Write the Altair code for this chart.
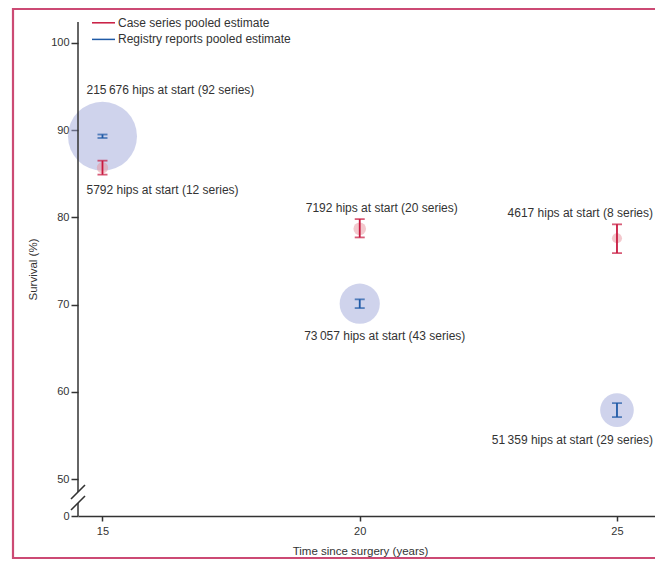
import altair as alt
import pandas as pd

# ---- data ----
years = [15, 20, 25]
case_est = [85.7, 78.7, 77.6]
case_lo = [84.9, 77.7, 75.9]
case_hi = [86.5, 79.8, 79.2]
case_hips = [5792, 7192, 4617]
case_series = [12, 20, 8]
reg_est = [89.3, 70.1, 57.9]
reg_lo = [89.1, 69.6, 57.1]
reg_hi = [89.5, 70.6, 58.7]
reg_hips = [215676, 73057, 51359]
reg_series = [92, 43, 29]
y_ticks = [0, 50, 60, 70, 80, 90, 100]
x_ticks = [15, 20, 25]

CASE = "Case series pooled estimate"
REG = "Registry reports pooled estimate"
RED = "#c8183f"
BLUE = "#1f5aa6"
TXT = "#333333"
FONT = "Liberation Sans"


def fmt(n):
    s = f"{n:,}"
    return s.replace(",", "\u2009") if n >= 10000 else s.replace(",", "")


rows = []
for i, yr in enumerate(years):
    rows.append(dict(group=REG, year=yr, est=reg_est[i], lo=reg_lo[i], hi=reg_hi[i],
                     hips=reg_hips[i],
                     label=f"{fmt(reg_hips[i])} hips at start ({reg_series[i]} series)"))
for i, yr in enumerate(years):
    rows.append(dict(group=CASE, year=yr, est=case_est[i], lo=case_lo[i], hi=case_hi[i],
                     hips=case_hips[i],
                     label=f"{fmt(case_hips[i])} hips at start ({case_series[i]} series)"))
df = pd.DataFrame(rows)

W, H = 577, 494
x_scale = alt.Scale(domain=[14.524, 25.739], nice=False, zero=False)
y_scale = alt.Scale(domain=[0, 50, 102.4], range=[494, 457, 0], nice=False, zero=False)
size_scale = alt.Scale(domain=[0, 215676], range=[0, 4761], zero=True)
color_scale = alt.Scale(domain=[CASE, REG], range=[RED, BLUE])
fill_scale = alt.Scale(domain=[CASE, REG], range=["#e8929b", "#9fa8da"])

COLOR = alt.Color("group:N", scale=color_scale, legend=None)

X = alt.X("year:Q", scale=x_scale,
          axis=alt.Axis(values=x_ticks, title="Time since surgery (years)", grid=False,
                        tickSize=5, labelPadding=4, labelFontSize=11,
                        titleX=282, titleY=35, titleBaseline="middle"))
Y = alt.Y("est:Q", scale=y_scale,
          axis=alt.Axis(values=y_ticks, title="Survival (%)", grid=False, domain=False,
                        tickSize=7, labelPadding=2, labelFontSize=11, titlePadding=12))

base = alt.Chart(df)

circles = base.mark_circle(opacity=0.5).encode(
    x=X, y=Y,
    size=alt.Size("hips:Q", scale=size_scale, legend=None),
    fill=alt.Fill("group:N", scale=fill_scale, legend=None),
)

bars = base.mark_rule(strokeWidth=1.8).encode(
    x="year:Q", y=alt.Y("lo:Q", scale=y_scale), y2="hi:Q", color=COLOR)
cap_lo = base.mark_tick(orient="horizontal", size=10, thickness=1.8).encode(
    x="year:Q", y=alt.Y("lo:Q", scale=y_scale), color=COLOR)
cap_hi = base.mark_tick(orient="horizontal", size=10, thickness=1.8).encode(
    x="year:Q", y=alt.Y("hi:Q", scale=y_scale), color=COLOR)

# label offsets (style): (dx, dy, align) per row in df order
label_style = [
    (-16, -46, "left"), (25, 32, "center"), (36, 30, "right"),
    (-16, 22, "left"), (22, -21, "center"), (36, -25, "right"),
]
labels = []
for i, (dx, dy, al) in enumerate(label_style):
    labels.append(alt.Chart(df.iloc[[i]]).mark_text(
        dx=dx, dy=dy, align=al, baseline="middle", fontSize=12, color=TXT, font=FONT
    ).encode(x="year:Q", y=alt.Y("est:Q", scale=y_scale), text="label:N"))

# legend (drawn as key lines + text)
leg_df = pd.DataFrame({"group": [CASE, REG], "row": [0, 1]})
leg_lines = []
leg_texts = []
for r, g in enumerate([CASE, REG]):
    sub = leg_df[leg_df["group"] == g]
    ypix = 0.8 + 16.6 * r
    leg_lines.append(alt.Chart(sub).mark_rule(strokeWidth=1.5).encode(
        x=alt.value(14), x2=alt.value(37), y=alt.value(ypix), color=COLOR))
    leg_texts.append(alt.Chart(sub).mark_text(
        align="left", baseline="middle", fontSize=12, color=TXT, font=FONT).encode(
        x=alt.value(40), y=alt.value(ypix), text="group:N"))

# broken y axis line
axis_seg = pd.DataFrame({"y0": [0, 32.4], "y1": [17.6, 102.4]})
yaxis = alt.Chart(axis_seg).mark_rule(color="#333", strokeWidth=1.5).encode(
    x=alt.value(0), y=alt.Y("y0:Q", scale=y_scale), y2="y1:Q")
brk = pd.DataFrame({"b0": [22.9, 8.1], "b1": [41.9, 27.1]})
slashes = alt.Chart(brk).mark_rule(color="#333", strokeWidth=1.5).encode(
    x=alt.value(-7), x2=alt.value(7), y=alt.Y("b0:Q", scale=y_scale), y2="b1:Q")

border = alt.Chart(pd.DataFrame({"a": [0]})).mark_rect(
    fill=None, stroke="#cc4a74", strokeWidth=2.2).encode(
    x=alt.value(-65), x2=alt.value(640), y=alt.value(-13), y2=alt.value(536))

chart = alt.layer(
    border, circles, yaxis, slashes, bars, cap_lo, cap_hi, *labels, *leg_lines, *leg_texts
).properties(
    width=W, height=H,
    autosize=alt.AutoSizeParams(type="none"),
    padding={"left": 70, "top": 14, "right": 0, "bottom": 44},
).configure(font=FONT).configure_view(stroke=None).configure_axis(
    domainColor="#333", domainWidth=1.5, tickColor="#333", tickWidth=1.5,
    labelColor=TXT, titleColor=TXT, titleFontWeight="normal", titleFontSize=11.5,
    labelFont=FONT, titleFont=FONT,
)

chart.save("out.html", embed_options={"renderer": "svg", "actions": False})
